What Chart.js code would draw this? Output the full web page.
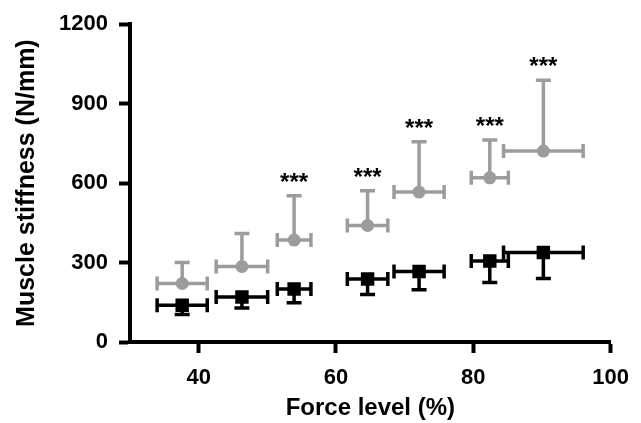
<!DOCTYPE html>
<html>
<head>
<meta charset="utf-8">
<script src="https://cdn.jsdelivr.net/npm/chart.js@4"></script>
<style>
  html, body { margin: 0; padding: 0; background: #fff; }
  #wrap { width: 641px; height: 423px; }
</style>
</head>
<body>
<div id="wrap"><canvas id="myChart"></canvas></div>
<script>
//Data
const forceLevel = [37.6, 46.3, 53.9, 64.6, 72.1, 82.4, 90.2];
const forceSD = [3.65, 3.75, 2.45, 2.95, 3.65, 2.7, 5.8];
const grayStiffness = [221, 285, 385, 440, 566, 620, 721];
const graySD = [79, 125, 167, 131, 190, 143, 267];
const blackStiffness = [139, 170, 200, 238, 266, 306, 338];
const blackSD = [35, 42, 52, 59, 69, 81, 98];
const significance = ['', '', '***', '***', '***', '***', '***'];
const xTicks = [40, 60, 80, 100];
const yTicks = [0, 300, 600, 900, 1200];

const GRAY = '#9c9c9c';
const BLACK = '#000000';
const FONT = "'Liberation Sans', Arial, sans-serif";

const ctx = document.getElementById('myChart').getContext('2d');

//Error bars: x both ways, y only one way (up for gray, down for black)
const errorBars = {
   id: 'errorBars',
   beforeDatasetsDraw(chart) {
      const c = chart.ctx;
      const xs = chart.scales.x;
      const ys = chart.scales.y;
      chart.data.datasets.forEach((ds) => {
         c.save();
         c.strokeStyle = ds.borderColor;
         c.lineWidth = 3.5;
         c.lineCap = 'butt';
         ds.data.forEach((p, i) => {
            const px = xs.getPixelForValue(p.x);
            const py = ys.getPixelForValue(p.y);
            const xl = xs.getPixelForValue(p.x - ds.xErr[i]);
            const xr = xs.getPixelForValue(p.x + ds.xErr[i]);
            const ye = ys.getPixelForValue(p.y + ds.yDir * ds.yErr[i]);
            c.beginPath();
            c.moveTo(xl, py); c.lineTo(xr, py);
            c.moveTo(xl, py - 7); c.lineTo(xl, py + 7);
            c.moveTo(xr, py - 7); c.lineTo(xr, py + 7);
            c.moveTo(px, py); c.lineTo(px, ye);
            c.moveTo(px - 7.5, ye); c.lineTo(px + 7.5, ye);
            c.stroke();
         });
         c.restore();
      });
   },
   afterDatasetsDraw(chart) {
      const c = chart.ctx;
      const xs = chart.scales.x;
      const ys = chart.scales.y;
      c.save();
      c.fillStyle = BLACK;
      c.font = 'bold 24px ' + FONT;
      c.textAlign = 'center';
      c.textBaseline = 'alphabetic';
      significance.forEach((s, i) => {
         if (!s) return;
         const px = xs.getPixelForValue(forceLevel[i]);
         const top = ys.getPixelForValue(grayStiffness[i] + graySD[i]);
         c.fillText(s, px, top - 6);
      });
      c.restore();
   }
};

const grayData = forceLevel.map((x, i) => ({ x, y: grayStiffness[i] }));
const blackData = forceLevel.map((x, i) => ({ x, y: blackStiffness[i] }));

new Chart(ctx, {
   type: 'scatter',
   data: {
      datasets: [
         {
            data: grayData,
            xErr: forceSD, yErr: graySD, yDir: 1,
            pointStyle: 'circle',
            pointRadius: 6.5,
            backgroundColor: GRAY,
            borderColor: GRAY,
            borderWidth: 0
         },
         {
            data: blackData,
            xErr: forceSD, yErr: blackSD, yDir: -1,
            pointStyle: 'rect',
            pointRadius: 9.5,
            backgroundColor: BLACK,
            borderColor: BLACK,
            borderWidth: 0
         }
      ]
   },
   plugins: [errorBars],
   options: {
      responsive: true,
      maintainAspectRatio: false,
      animation: false,
      layout: { padding: { top: 22, right: 29, left: 0, bottom: 0 } },
      scales: {
         x: {
            type: 'linear',
            min: 30, max: 100,
            afterBuildTicks: (s) => { s.ticks = xTicks.map(v => ({ value: v })); },
            afterFit: (s) => { s.height = 81; },
            grid: { display: true, drawOnChartArea: false, drawTicks: true, tickLength: 11, tickWidth: 4, tickColor: BLACK },
            border: { display: true, width: 4, color: BLACK },
            ticks: {
               color: BLACK, padding: 12, maxRotation: 0,
               callback: (v) => String(v),
               font: { family: FONT, size: 22, weight: 'bold' }
            },
            title: {
               display: true, text: 'Force level (%)', color: BLACK,
               padding: { top: 4, bottom: 0 },
               font: { family: FONT, size: 24, weight: 'bold' }
            }
         },
         y: {
            type: 'linear',
            min: 0, max: 1200,
            afterBuildTicks: (s) => { s.ticks = yTicks.map(v => ({ value: v })); },
            afterFit: (s) => { s.width = 130; },
            grid: { display: true, drawOnChartArea: false, drawTicks: true, tickLength: 11, tickWidth: 4, tickColor: BLACK },
            border: { display: true, width: 4, color: BLACK },
            ticks: {
               color: BLACK, padding: 11,
               callback: (v) => String(v),
               font: { family: FONT, size: 22, weight: 'bold' }
            },
            title: {
               display: true, text: 'Muscle stiffness (N/mm)', color: BLACK,
               padding: { top: 12, bottom: 0 },
               font: { family: FONT, size: 25, weight: 'bold' }
            }
         }
      },
      plugins: {
         legend: { display: false },
         tooltip: { enabled: false }
      }
   }
});
</script>
</body>
</html>
